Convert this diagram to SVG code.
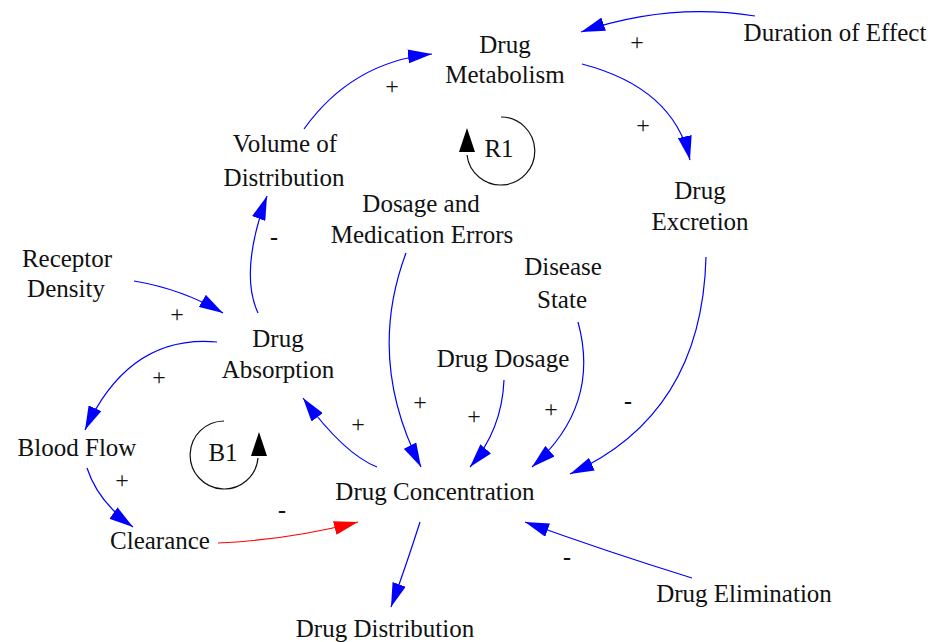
<svg xmlns="http://www.w3.org/2000/svg" width="932" height="642" viewBox="0 0 932 642">
  <style>
    .lbl { font-family: "Liberation Serif", "Times New Roman", serif; font-size: 25px; fill: #111; text-anchor: middle; }
    .sgn { font-family: "Liberation Serif", "Times New Roman", serif; font-size: 24px; fill: #111; text-anchor: middle; }
    .neg { font-weight: bold; }
    .link { fill: none; stroke: #0000ff; stroke-width: 1.2; marker-end: url(#headBlue); }
    .link.red { stroke: #ff0000; marker-end: url(#headRed); }
    .loop { fill: none; stroke: #111; stroke-width: 1.2; }
    .loopHead { fill: #000; }
  </style>
  <defs>
    <marker id="headBlue" viewBox="0 0 24 14" refX="24" refY="7" markerWidth="24" markerHeight="14" markerUnits="userSpaceOnUse" orient="auto">
      <path d="M0,0 L24,7 L0,14 Z" fill="#0000ff"/>
    </marker>
    <marker id="headRed" viewBox="0 0 24 14" refX="24" refY="7" markerWidth="24" markerHeight="14" markerUnits="userSpaceOnUse" orient="auto">
      <path d="M0,0 L24,7 L0,14 Z" fill="#ff0000"/>
    </marker>
  </defs>
  <rect width="932" height="642" fill="#fff"/>

  <!-- causal links -->
  <g id="connectors">
    <path class="link" d="M755,16 Q668,2 581,32"/>
    <path class="link" d="M304,129 Q352,62 432,54"/>
    <path class="link" d="M582,64 Q674,88 690,160"/>
    <path class="link" d="M258,313 Q239,272 267,196"/>
    <path class="link" d="M134,281 Q182,289 223,313"/>
    <path class="link" d="M217,342 Q129,334 85,430"/>
    <path class="link" d="M87,468 Q98,502 133,527"/>
    <path class="link red" d="M218,543 Q288,540 358,522"/>
    <path class="link" d="M377,467 Q344,454 303,398"/>
    <path class="link" d="M406,253 Q366,360 421,467"/>
    <path class="link" d="M504,380 Q502,430 470,467"/>
    <path class="link" d="M578,322 Q601,406 532,467"/>
    <path class="link" d="M706,257 Q702,415 570,474"/>
    <path class="link" d="M692,578 Q608,552 525,522"/>
    <path class="link" d="M420,522 Q408,560 391,607"/>
  </g>

  <!-- link polarities -->
  <g id="polarities">
    <text class="sgn" x="637" y="50">+</text>
    <text class="sgn" x="392" y="94">+</text>
    <text class="sgn" x="643" y="133">+</text>
    <text class="sgn neg" x="274" y="245">-</text>
    <text class="sgn" x="177" y="322">+</text>
    <text class="sgn" x="159" y="385">+</text>
    <text class="sgn" x="420" y="410">+</text>
    <text class="sgn" x="474" y="424">+</text>
    <text class="sgn" x="551" y="417">+</text>
    <text class="sgn neg" x="628" y="409">-</text>
    <text class="sgn" x="358" y="432">+</text>
    <text class="sgn" x="122" y="488">+</text>
    <text class="sgn neg" x="282" y="518">-</text>
    <text class="sgn neg" x="567" y="565">-</text>
  </g>

  <!-- loop markers -->
  <g id="loop-R1">
    <path class="loop" d="M501,117 A34,34 0 1 1 467,155"/>
    <polygon class="loopHead" points="467,128 459,152 475,152"/>
    <text class="lbl" x="499" y="157">R1</text>
  </g>
  <g id="loop-B1">
    <path class="loop" d="M224,421 A34,34 0 1 0 258,458"/>
    <polygon class="loopHead" points="259,432 251,456 267,456"/>
    <text class="lbl" x="223" y="461">B1</text>
  </g>

  <!-- variables -->
  <g id="drug-metabolism">
    <text class="lbl" x="505" y="53">Drug</text>
    <text class="lbl" x="505" y="83">Metabolism</text>
  </g>
  <g id="duration-of-effect">
    <text class="lbl" x="835" y="41">Duration of Effect</text>
  </g>
  <g id="volume-of-distribution">
    <text class="lbl" x="285" y="152">Volume of</text>
    <text class="lbl" x="284" y="186">Distribution</text>
  </g>
  <g id="dosage-and-medication-errors">
    <text class="lbl" x="421" y="212">Dosage and</text>
    <text class="lbl" x="422" y="243">Medication Errors</text>
  </g>
  <g id="drug-excretion">
    <text class="lbl" x="700" y="199">Drug</text>
    <text class="lbl" x="700" y="230">Excretion</text>
  </g>
  <g id="receptor-density">
    <text class="lbl" x="67" y="267">Receptor</text>
    <text class="lbl" x="66" y="297">Density</text>
  </g>
  <g id="disease-state">
    <text class="lbl" x="563" y="275">Disease</text>
    <text class="lbl" x="562" y="308">State</text>
  </g>
  <g id="drug-absorption">
    <text class="lbl" x="278" y="347">Drug</text>
    <text class="lbl" x="278" y="378">Absorption</text>
  </g>
  <g id="drug-dosage">
    <text class="lbl" x="503" y="367">Drug Dosage</text>
  </g>
  <g id="blood-flow">
    <text class="lbl" x="77" y="456">Blood Flow</text>
  </g>
  <g id="drug-concentration">
    <text class="lbl" x="435" y="500">Drug Concentration</text>
  </g>
  <g id="clearance">
    <text class="lbl" x="160" y="549">Clearance</text>
  </g>
  <g id="drug-elimination">
    <text class="lbl" x="744" y="602">Drug Elimination</text>
  </g>
  <g id="drug-distribution">
    <text class="lbl" x="385" y="637">Drug Distribution</text>
  </g>
</svg>
